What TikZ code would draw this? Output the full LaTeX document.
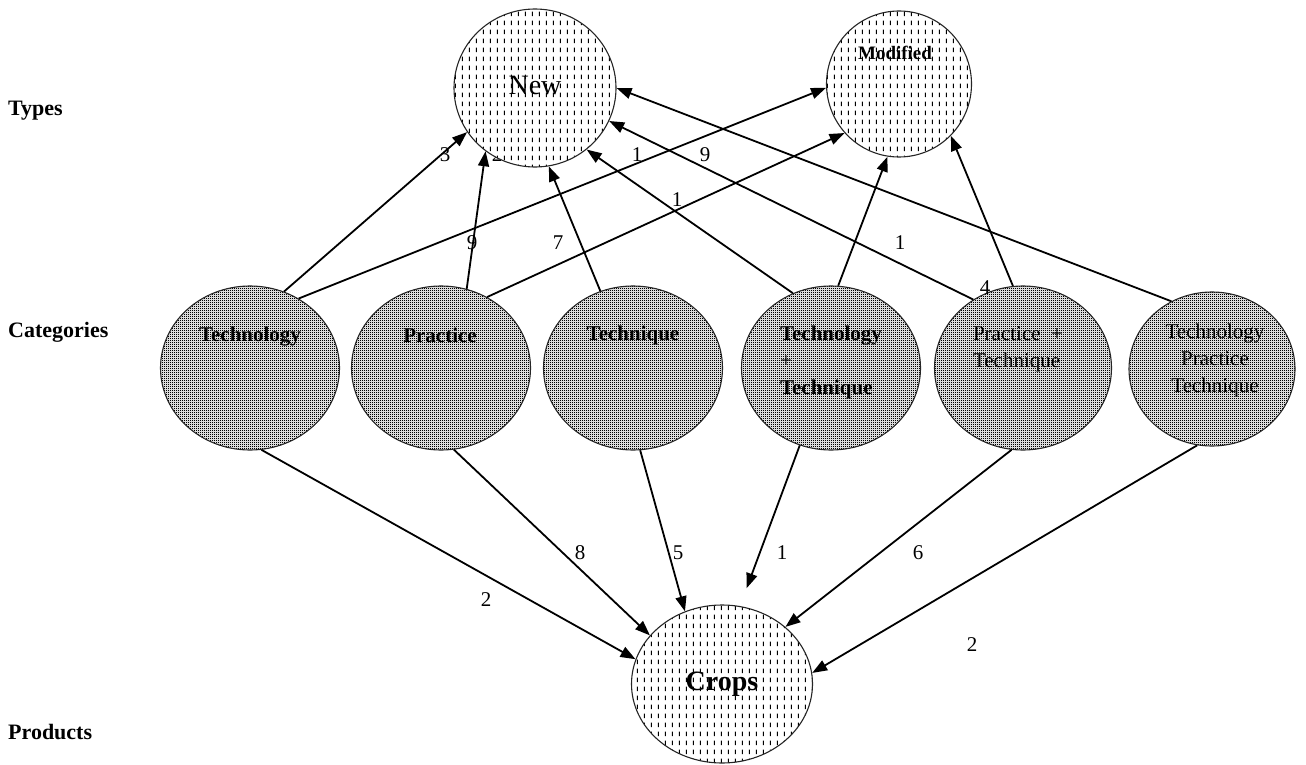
\documentclass[tikz,border=0pt]{standalone}
\usepackage{fontspec}
\setmainfont{Liberation Serif}
\usetikzlibrary{shapes.geometric,arrows.meta,patterns}

% short vertical dashes for the type and product circles
\pgfdeclarepatternformonly{vdashes}{\pgfpoint{0pt}{0pt}}{\pgfpoint{7.3pt}{9pt}}{\pgfpoint{7.3pt}{9pt}}{%
  \pgfsetlinewidth{1pt}%
  \pgfpathmoveto{\pgfpoint{3.65pt}{2pt}}%
  \pgfpathlineto{\pgfpoint{3.65pt}{7pt}}%
  \pgfusepath{stroke}}
% fine dot screen for the category circles
\pgfdeclarepatternformonly{finedots}{\pgfpoint{0pt}{0pt}}{\pgfpoint{2.4pt}{2.4pt}}{\pgfpoint{2.4pt}{2.4pt}}{%
  \pgfpathrectangle{\pgfpoint{0pt}{0pt}}{\pgfpoint{1.2pt}{1.2pt}}%
  \pgfusepath{fill}}

\begin{document}
\begin{tikzpicture}[x=1pt,y=-1pt,
  typebox/.style={ellipse, draw=black!85, line width=1.1pt, inner sep=0pt,
    preaction={fill=white}, pattern=vdashes},
  catbox/.style={ellipse, draw=black!85, line width=1.1pt, inner sep=0pt,
    minimum width=179pt, minimum height=164pt,
    preaction={fill=gray!28}, pattern=finedots},
  link/.style={line width=1.8pt, -{Triangle[length=15pt,width=11pt]}},
  num/.style={font=\fontsize{21}{25}\selectfont, inner sep=0pt},
  side/.style={font=\bfseries\fontsize{22}{26}\selectfont, anchor=west, inner sep=0pt},
  cattext/.style={font=\fontsize{21}{27}\selectfont, inner sep=0pt},
  cattextb/.style={font=\bfseries\fontsize{21}{27}\selectfont, inner sep=0pt},
]
\useasboundingbox (0,0) rectangle (1306,765);

% row headings
\node[side] (hTypes) at (8,111) {Types};
\node[side] (hCat) at (8,332) {Categories};
\node[side] (hProd) at (8,732) {Products};

% count partly covered by the New circle
\node[num] (n2top) at (497,155) {2};

% types
\node[typebox, minimum width=162pt, minimum height=158pt,
  label={[font=\fontsize{28}{32}\selectfont, yshift=3pt]center:New}] (new) at (535,88) {};
\node[typebox, minimum width=145pt, minimum height=146pt,
  label={[font=\bfseries\fontsize{19}{23}\selectfont, xshift=-4pt, yshift=31pt]center:Modified}] (mod) at (899,84) {};

% categories
\node[catbox, label={[cattextb, yshift=31pt]center:Technology}] (tech) at (250,368) {};
\node[catbox, label={[cattextb, xshift=-1pt, yshift=33pt]center:Practice}] (prac) at (441,368) {};
\node[catbox, label={[cattextb, yshift=33pt]center:Technique}] (tq) at (633,368) {};
\node[catbox, label={[cattextb, align=left, yshift=6pt]center:Technology\\\mdseries+\\Technique}] (tt) at (831,368) {};
\node[catbox, minimum width=177pt, label={[cattext, align=left, xshift=-5pt, yshift=19pt]center:Practice~~+\\Technique}] (pt) at (1023,368) {};
\node[catbox, minimum width=166pt, minimum height=154pt, label={[cattext, align=center, xshift=3pt, yshift=9pt]center:Technology\\Practice\\Technique}] (tpt) at (1212,369) {};

% product
\node[typebox, minimum width=181pt, minimum height=158pt,
  label={[font=\bfseries\fontsize{28}{32}\selectfont]center:Crops}] (crops) at (722,684) {};

% categories to types
\draw[link] (tech.66) -- (new.213);
\draw[link] (prac.72) -- (new.232);
\draw[link] (tq.113) -- (new.280);
\draw[link] (tt.117) -- (new.310);
\draw[link] (pt.126) -- (new.336);
\draw[link] (tpt.121) -- (new.0);
\draw[link] (tech.55) -- (mod.183);
\draw[link] (prac.57) -- (mod.222);
\draw[link] (tt.85) -- (mod.261);
\draw[link] (pt.97) -- (mod.315);

% categories to products
\draw[link] (tech.278) -- (crops.164);
\draw[link] (prac.279) -- (crops.146);
\draw[link] (tq.275) -- (crops.117);
\draw[link, shorten >=19pt] (tt.248) -- (crops.77);
\draw[link] (pt.262) -- (crops.42);
\draw[link] (tpt.259) -- (crops.7);

% counts
\node[num] (n3) at (445,155) {3};
\node[num] (n9a) at (472,243) {9};
\node[num] (n7) at (558,243) {7};
\node[num] (n1a) at (637,155) {1};
\node[num] (n9b) at (705,155) {9};
\node[num] (n1b) at (677,200) {1};
\node[num] (n1c) at (900,243) {1};
\node[num] (n4) at (985,288) {4};
\node[num] (n2a) at (486,600) {2};
\node[num] (n8) at (580,553) {8};
\node[num] (n5) at (678,553) {5};
\node[num] (n1d) at (782,553) {1};
\node[num] (n6) at (918,553) {6};
\node[num] (n2b) at (972,645) {2};
\end{tikzpicture}
\end{document}
